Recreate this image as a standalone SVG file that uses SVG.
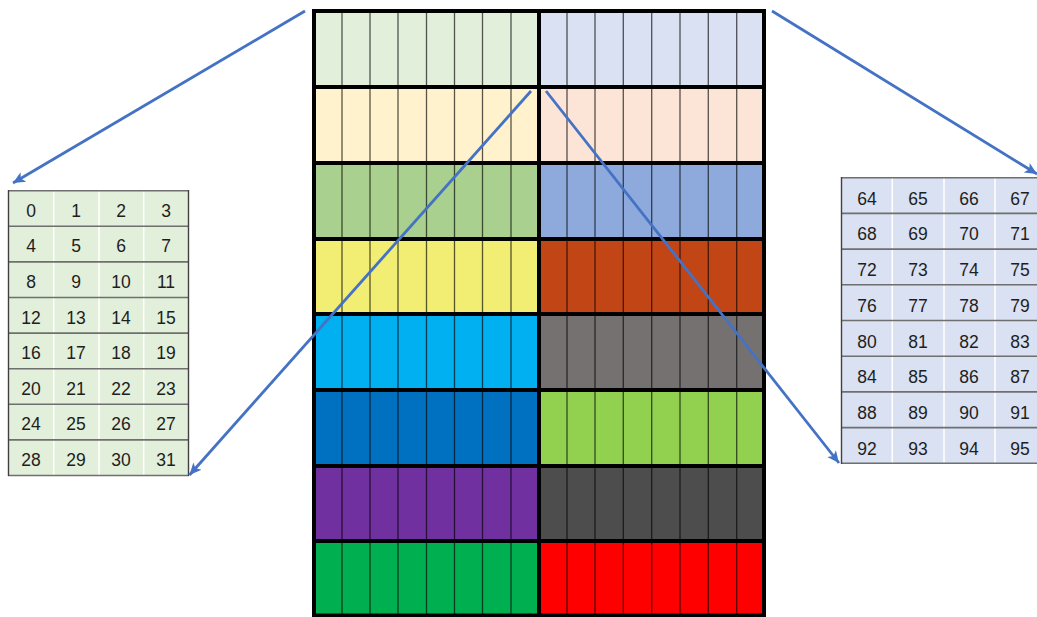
<svg xmlns="http://www.w3.org/2000/svg" width="1037" height="617" viewBox="0 0 1037 617">
<style>
.thin{stroke:#000;stroke-opacity:0.65;stroke-width:1.3}
.thick{stroke:#000;stroke-width:4;fill:none}
.tl{fill:#E2EFDA}
.tr{fill:#D9E1F2}
.hl{stroke:#6f6f6f;stroke-width:1.6}
.vl{stroke:#ffffff;stroke-width:1.5}
.edge{stroke:#404040;stroke-width:1.4}
.num{font-family:"Liberation Sans",Arial,sans-serif;font-size:17.5px;fill:#1e1e1e;text-anchor:middle}
.conn{stroke:#4472C4;stroke-width:2.8;fill:none;marker-end:url(#ah)}
</style>
<defs>
<marker id="ah" markerUnits="userSpaceOnUse" markerWidth="14" markerHeight="12" refX="12" refY="6" orient="auto">
<path d="M0,0.5 L12,6 L0,11.5 L3,6 z" fill="#4472C4"/>
</marker>
</defs>
<rect width="1037" height="617" fill="#fff"/>
<g id="grid">
<rect x="314" y="11" width="225" height="76" fill="#E2EFDA"/>
<rect x="539" y="11" width="225" height="76" fill="#D9E1F2"/>
<rect x="314" y="87" width="225" height="76" fill="#FFF2CC"/>
<rect x="539" y="87" width="225" height="76" fill="#FCE4D6"/>
<rect x="314" y="163" width="225" height="76" fill="#A9D08E"/>
<rect x="539" y="163" width="225" height="76" fill="#8EA9DB"/>
<rect x="314" y="239" width="225" height="75" fill="#F2EE74"/>
<rect x="539" y="239" width="225" height="75" fill="#C24515"/>
<rect x="314" y="314" width="225" height="76" fill="#00B0F0"/>
<rect x="539" y="314" width="225" height="76" fill="#767171"/>
<rect x="314" y="390" width="225" height="76" fill="#0070C0"/>
<rect x="539" y="390" width="225" height="76" fill="#92D050"/>
<rect x="314" y="466" width="225" height="75" fill="#7030A0"/>
<rect x="539" y="466" width="225" height="75" fill="#4D4D4D"/>
<rect x="314" y="541" width="225" height="76" fill="#00B050"/>
<rect x="539" y="541" width="225" height="76" fill="#FF0000"/>
<g class="thin">
<line x1="342" y1="11" x2="342" y2="617"/>
<line x1="370" y1="11" x2="370" y2="617"/>
<line x1="398" y1="11" x2="398" y2="617"/>
<line x1="426.5" y1="11" x2="426.5" y2="617"/>
<line x1="454.5" y1="11" x2="454.5" y2="617"/>
<line x1="482.5" y1="11" x2="482.5" y2="617"/>
<line x1="511" y1="11" x2="511" y2="617"/>
<line x1="567" y1="11" x2="567" y2="617"/>
<line x1="595" y1="11" x2="595" y2="617"/>
<line x1="623.3" y1="11" x2="623.3" y2="617"/>
<line x1="651.7" y1="11" x2="651.7" y2="617"/>
<line x1="680" y1="11" x2="680" y2="617"/>
<line x1="708.3" y1="11" x2="708.3" y2="617"/>
<line x1="736.7" y1="11" x2="736.7" y2="617"/>
</g>
<path class="thick" d="M312,87H766M312,163H766M312,239H766M312,314H766M312,390H766M312,466H766M312,541H766M539,11V617"/>
<path class="thick" d="M314,617V11H764V617M312,615.5H766"/>
</g>
<g id="left-table">
<rect class="tl" x="8" y="190.7" width="181" height="285"/>
<g class="vl">
<line x1="53.7" y1="190.7" x2="53.7" y2="475.7"/>
<line x1="99" y1="190.7" x2="99" y2="475.7"/>
<line x1="143.7" y1="190.7" x2="143.7" y2="475.7"/>
</g>
<g class="hl">
<line x1="8" y1="190.7" x2="189" y2="190.7"/>
<line x1="8" y1="226.3" x2="189" y2="226.3"/>
<line x1="8" y1="261.9" x2="189" y2="261.9"/>
<line x1="8" y1="297.5" x2="189" y2="297.5"/>
<line x1="8" y1="333.1" x2="189" y2="333.1"/>
<line x1="8" y1="368.7" x2="189" y2="368.7"/>
<line x1="8" y1="404.3" x2="189" y2="404.3"/>
<line x1="8" y1="439.9" x2="189" y2="439.9"/>
<line x1="8" y1="475.5" x2="189" y2="475.5"/>
</g>
<line class="edge" x1="8.5" y1="190" x2="8.5" y2="476"/>
<line class="edge" x1="188.5" y1="190" x2="188.5" y2="476"/>
<g class="num">
<text x="31" y="216.7">0</text><text x="76" y="216.7">1</text><text x="121" y="216.7">2</text><text x="166" y="216.7">3</text>
<text x="31" y="252.3">4</text><text x="76" y="252.3">5</text><text x="121" y="252.3">6</text><text x="166" y="252.3">7</text>
<text x="31" y="287.9">8</text><text x="76" y="287.9">9</text><text x="121" y="287.9">10</text><text x="166" y="287.9">11</text>
<text x="31" y="323.5">12</text><text x="76" y="323.5">13</text><text x="121" y="323.5">14</text><text x="166" y="323.5">15</text>
<text x="31" y="359.1">16</text><text x="76" y="359.1">17</text><text x="121" y="359.1">18</text><text x="166" y="359.1">19</text>
<text x="31" y="394.7">20</text><text x="76" y="394.7">21</text><text x="121" y="394.7">22</text><text x="166" y="394.7">23</text>
<text x="31" y="430.3">24</text><text x="76" y="430.3">25</text><text x="121" y="430.3">26</text><text x="166" y="430.3">27</text>
<text x="31" y="465.9">28</text><text x="76" y="465.9">29</text><text x="121" y="465.9">30</text><text x="166" y="465.9">31</text>
</g>
</g>
<g id="right-table">
<rect class="tr" x="841" y="177.7" width="205" height="285.6"/>
<g class="vl">
<line x1="892.3" y1="177.7" x2="892.3" y2="463.3"/>
<line x1="944" y1="177.7" x2="944" y2="463.3"/>
<line x1="995" y1="177.7" x2="995" y2="463.3"/>
</g>
<g class="hl">
<line x1="841" y1="177.7" x2="1046" y2="177.7"/>
<line x1="841" y1="213.4" x2="1046" y2="213.4"/>
<line x1="841" y1="249.1" x2="1046" y2="249.1"/>
<line x1="841" y1="284.8" x2="1046" y2="284.8"/>
<line x1="841" y1="320.5" x2="1046" y2="320.5"/>
<line x1="841" y1="356.2" x2="1046" y2="356.2"/>
<line x1="841" y1="391.9" x2="1046" y2="391.9"/>
<line x1="841" y1="427.6" x2="1046" y2="427.6"/>
<line x1="841" y1="463.3" x2="1046" y2="463.3"/>
</g>
<line class="edge" x1="841.5" y1="177" x2="841.5" y2="464"/>
<g class="num">
<text x="867" y="204.7">64</text><text x="918" y="204.7">65</text><text x="969" y="204.7">66</text><text x="1020" y="204.7">67</text>
<text x="867" y="240.4">68</text><text x="918" y="240.4">69</text><text x="969" y="240.4">70</text><text x="1020" y="240.4">71</text>
<text x="867" y="276.1">72</text><text x="918" y="276.1">73</text><text x="969" y="276.1">74</text><text x="1020" y="276.1">75</text>
<text x="867" y="311.8">76</text><text x="918" y="311.8">77</text><text x="969" y="311.8">78</text><text x="1020" y="311.8">79</text>
<text x="867" y="347.5">80</text><text x="918" y="347.5">81</text><text x="969" y="347.5">82</text><text x="1020" y="347.5">83</text>
<text x="867" y="383.2">84</text><text x="918" y="383.2">85</text><text x="969" y="383.2">86</text><text x="1020" y="383.2">87</text>
<text x="867" y="418.9">88</text><text x="918" y="418.9">89</text><text x="969" y="418.9">90</text><text x="1020" y="418.9">91</text>
<text x="867" y="454.6">92</text><text x="918" y="454.6">93</text><text x="969" y="454.6">94</text><text x="1020" y="454.6">95</text>
</g>
</g>
<g id="connectors">
<line class="conn" x1="305" y1="11" x2="13" y2="183"/>
<line class="conn" x1="531" y1="91" x2="189.5" y2="475"/>
<line class="conn" x1="546" y1="91" x2="839" y2="463"/>
<line class="conn" x1="772" y1="11" x2="1037" y2="174"/>
</g>
</svg>
